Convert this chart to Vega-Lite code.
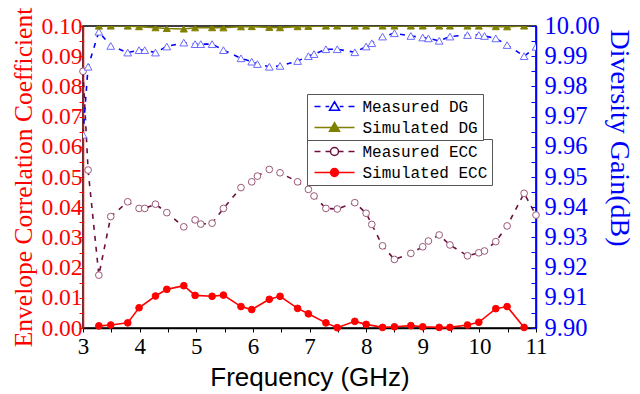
{
  "$schema": "https://vega.github.io/schema/vega-lite/v6.json",
  "width": 453,
  "height": 302,
  "autosize": "none",
  "padding": {"left": 83, "top": 26, "right": 104, "bottom": 66},
  "background": "white",
  "config": {
    "view": {"stroke": "black", "strokeWidth": 1.5},
    "axis": {"grid": false}
  },
  "datasets": {
    "ecc": [
      {"s": "Measured ECC", "f": 3.0, "v": 0.085},
      {"s": "Measured ECC", "f": 3.09, "v": 0.0523},
      {"s": "Measured ECC", "f": 3.28, "v": 0.0175},
      {"s": "Measured ECC", "f": 3.49, "v": 0.0369},
      {"s": "Measured ECC", "f": 3.79, "v": 0.0418},
      {"s": "Measured ECC", "f": 3.99, "v": 0.0396},
      {"s": "Measured ECC", "f": 4.09, "v": 0.0396},
      {"s": "Measured ECC", "f": 4.28, "v": 0.041},
      {"s": "Measured ECC", "f": 4.48, "v": 0.0382},
      {"s": "Measured ECC", "f": 4.78, "v": 0.0335},
      {"s": "Measured ECC", "f": 4.98, "v": 0.0358},
      {"s": "Measured ECC", "f": 5.08, "v": 0.0344},
      {"s": "Measured ECC", "f": 5.28, "v": 0.0347},
      {"s": "Measured ECC", "f": 5.48, "v": 0.0396},
      {"s": "Measured ECC", "f": 5.79, "v": 0.0465},
      {"s": "Measured ECC", "f": 5.98, "v": 0.0484},
      {"s": "Measured ECC", "f": 6.08, "v": 0.0503},
      {"s": "Measured ECC", "f": 6.29, "v": 0.0525},
      {"s": "Measured ECC", "f": 6.48, "v": 0.0514},
      {"s": "Measured ECC", "f": 6.79, "v": 0.0484},
      {"s": "Measured ECC", "f": 6.98, "v": 0.0459},
      {"s": "Measured ECC", "f": 7.08, "v": 0.0437},
      {"s": "Measured ECC", "f": 7.29, "v": 0.0396},
      {"s": "Measured ECC", "f": 7.49, "v": 0.0394},
      {"s": "Measured ECC", "f": 7.8, "v": 0.0415},
      {"s": "Measured ECC", "f": 8.0, "v": 0.038},
      {"s": "Measured ECC", "f": 8.1, "v": 0.0343},
      {"s": "Measured ECC", "f": 8.29, "v": 0.0272},
      {"s": "Measured ECC", "f": 8.5, "v": 0.0227},
      {"s": "Measured ECC", "f": 8.79, "v": 0.0247},
      {"s": "Measured ECC", "f": 9.0, "v": 0.0269},
      {"s": "Measured ECC", "f": 9.1, "v": 0.0288},
      {"s": "Measured ECC", "f": 9.29, "v": 0.0308},
      {"s": "Measured ECC", "f": 9.48, "v": 0.0275},
      {"s": "Measured ECC", "f": 9.79, "v": 0.0239},
      {"s": "Measured ECC", "f": 9.99, "v": 0.0249},
      {"s": "Measured ECC", "f": 10.09, "v": 0.0255},
      {"s": "Measured ECC", "f": 10.29, "v": 0.0286},
      {"s": "Measured ECC", "f": 10.49, "v": 0.0338},
      {"s": "Measured ECC", "f": 10.79, "v": 0.0446},
      {"s": "Measured ECC", "f": 11.0, "v": 0.0374},
      {"s": "Simulated ECC", "f": 3.28, "v": 0.0007},
      {"s": "Simulated ECC", "f": 3.49, "v": 0.001},
      {"s": "Simulated ECC", "f": 3.79, "v": 0.0017},
      {"s": "Simulated ECC", "f": 3.99, "v": 0.0067},
      {"s": "Simulated ECC", "f": 4.28, "v": 0.0106},
      {"s": "Simulated ECC", "f": 4.48, "v": 0.0128},
      {"s": "Simulated ECC", "f": 4.78, "v": 0.014},
      {"s": "Simulated ECC", "f": 4.98, "v": 0.0108},
      {"s": "Simulated ECC", "f": 5.28, "v": 0.0105},
      {"s": "Simulated ECC", "f": 5.48, "v": 0.0109},
      {"s": "Simulated ECC", "f": 5.79, "v": 0.0071},
      {"s": "Simulated ECC", "f": 5.98, "v": 0.0061},
      {"s": "Simulated ECC", "f": 6.29, "v": 0.0095},
      {"s": "Simulated ECC", "f": 6.48, "v": 0.0105},
      {"s": "Simulated ECC", "f": 6.79, "v": 0.0065},
      {"s": "Simulated ECC", "f": 6.98, "v": 0.0047},
      {"s": "Simulated ECC", "f": 7.29, "v": 0.0017},
      {"s": "Simulated ECC", "f": 7.49, "v": 0.0001},
      {"s": "Simulated ECC", "f": 7.8, "v": 0.0022},
      {"s": "Simulated ECC", "f": 8.0, "v": 0.0012},
      {"s": "Simulated ECC", "f": 8.29, "v": 0.0002},
      {"s": "Simulated ECC", "f": 8.5, "v": 0.0004},
      {"s": "Simulated ECC", "f": 8.79, "v": 0.0008},
      {"s": "Simulated ECC", "f": 9.0, "v": 0.0004},
      {"s": "Simulated ECC", "f": 9.29, "v": 0.0002},
      {"s": "Simulated ECC", "f": 9.48, "v": 0.0002},
      {"s": "Simulated ECC", "f": 9.79, "v": 0.001},
      {"s": "Simulated ECC", "f": 9.99, "v": 0.0019},
      {"s": "Simulated ECC", "f": 10.29, "v": 0.0064},
      {"s": "Simulated ECC", "f": 10.49, "v": 0.0071},
      {"s": "Simulated ECC", "f": 10.79, "v": 0.0002}
    ],
    "dg": [
      {"s": "Measured DG", "f": 3.0, "v": 9.964},
      {"s": "Measured DG", "f": 3.09, "v": 9.9865},
      {"s": "Measured DG", "f": 3.28, "v": 9.9981},
      {"s": "Measured DG", "f": 3.49, "v": 9.9934},
      {"s": "Measured DG", "f": 3.79, "v": 9.9912},
      {"s": "Measured DG", "f": 3.99, "v": 9.992},
      {"s": "Measured DG", "f": 4.09, "v": 9.992},
      {"s": "Measured DG", "f": 4.28, "v": 9.9912},
      {"s": "Measured DG", "f": 4.48, "v": 9.9932},
      {"s": "Measured DG", "f": 4.78, "v": 9.9945},
      {"s": "Measured DG", "f": 4.98, "v": 9.994},
      {"s": "Measured DG", "f": 5.08, "v": 9.994},
      {"s": "Measured DG", "f": 5.28, "v": 9.994},
      {"s": "Measured DG", "f": 5.48, "v": 9.992},
      {"s": "Measured DG", "f": 5.79, "v": 9.9893},
      {"s": "Measured DG", "f": 5.98, "v": 9.9882},
      {"s": "Measured DG", "f": 6.08, "v": 9.9874},
      {"s": "Measured DG", "f": 6.29, "v": 9.9865},
      {"s": "Measured DG", "f": 6.48, "v": 9.9868},
      {"s": "Measured DG", "f": 6.79, "v": 9.9884},
      {"s": "Measured DG", "f": 6.98, "v": 9.99},
      {"s": "Measured DG", "f": 7.08, "v": 9.9907},
      {"s": "Measured DG", "f": 7.29, "v": 9.9923},
      {"s": "Measured DG", "f": 7.49, "v": 9.9923},
      {"s": "Measured DG", "f": 7.8, "v": 9.9913},
      {"s": "Measured DG", "f": 8.0, "v": 9.9932},
      {"s": "Measured DG", "f": 8.1, "v": 9.9943},
      {"s": "Measured DG", "f": 8.29, "v": 9.9965},
      {"s": "Measured DG", "f": 8.5, "v": 9.9976},
      {"s": "Measured DG", "f": 8.79, "v": 9.9967},
      {"s": "Measured DG", "f": 9.0, "v": 9.9962},
      {"s": "Measured DG", "f": 9.1, "v": 9.9959},
      {"s": "Measured DG", "f": 9.29, "v": 9.9951},
      {"s": "Measured DG", "f": 9.48, "v": 9.9965},
      {"s": "Measured DG", "f": 9.79, "v": 9.997},
      {"s": "Measured DG", "f": 9.99, "v": 9.997},
      {"s": "Measured DG", "f": 10.09, "v": 9.9967},
      {"s": "Measured DG", "f": 10.29, "v": 9.9959},
      {"s": "Measured DG", "f": 10.49, "v": 9.9937},
      {"s": "Measured DG", "f": 10.79, "v": 9.99},
      {"s": "Measured DG", "f": 11.0, "v": 9.9931},
      {"s": "Simulated DG", "f": 3.28, "v": 9.99999},
      {"s": "Simulated DG", "f": 3.49, "v": 9.99999},
      {"s": "Simulated DG", "f": 3.79, "v": 9.99998},
      {"s": "Simulated DG", "f": 3.99, "v": 9.99978},
      {"s": "Simulated DG", "f": 4.28, "v": 9.99944},
      {"s": "Simulated DG", "f": 4.48, "v": 9.99918},
      {"s": "Simulated DG", "f": 4.78, "v": 9.99902},
      {"s": "Simulated DG", "f": 4.98, "v": 9.99942},
      {"s": "Simulated DG", "f": 5.28, "v": 9.99945},
      {"s": "Simulated DG", "f": 5.48, "v": 9.99941},
      {"s": "Simulated DG", "f": 5.79, "v": 9.99975},
      {"s": "Simulated DG", "f": 5.98, "v": 9.99981},
      {"s": "Simulated DG", "f": 6.29, "v": 9.99955},
      {"s": "Simulated DG", "f": 6.48, "v": 9.99945},
      {"s": "Simulated DG", "f": 6.79, "v": 9.99979},
      {"s": "Simulated DG", "f": 6.98, "v": 9.99989},
      {"s": "Simulated DG", "f": 7.29, "v": 9.99998},
      {"s": "Simulated DG", "f": 7.49, "v": 10.0},
      {"s": "Simulated DG", "f": 7.8, "v": 9.99998},
      {"s": "Simulated DG", "f": 8.0, "v": 9.99999},
      {"s": "Simulated DG", "f": 8.29, "v": 10.0},
      {"s": "Simulated DG", "f": 8.5, "v": 10.0},
      {"s": "Simulated DG", "f": 8.79, "v": 10.0},
      {"s": "Simulated DG", "f": 9.0, "v": 10.0},
      {"s": "Simulated DG", "f": 9.29, "v": 10.0},
      {"s": "Simulated DG", "f": 9.48, "v": 10.0},
      {"s": "Simulated DG", "f": 9.79, "v": 9.99999},
      {"s": "Simulated DG", "f": 9.99, "v": 9.99998},
      {"s": "Simulated DG", "f": 10.29, "v": 9.9998},
      {"s": "Simulated DG", "f": 10.49, "v": 9.99975},
      {"s": "Simulated DG", "f": 10.79, "v": 10.0}
    ]
  },
  "encoding": {
    "x": {
      "field": "f",
      "type": "quantitative",
      "scale": {"domain": [3, 11], "nice": false, "zero": false},
      "axis": {
        "values": [3, 3.5, 4, 4.5, 5, 5.5, 6, 6.5, 7, 7.5, 8, 8.5, 9, 9.5, 10, 10.5, 11],
        "labelExpr": "datum.value % 1 === 0 ? format(datum.value, 'd') : ''",
        "labelFont": "Liberation Serif",
        "labelFontSize": 23,
        "labelColor": "black",
        "labelPadding": 3,
        "labelFlush": false,
        "labelOverlap": false,
        "domainColor": "black",
        "domainWidth": 1.5,
        "tickColor": "black",
        "tickSize": 4,
        "title": "Frequency (GHz)",
        "titleFont": "Liberation Sans",
        "titleFontSize": 26,
        "titleFontWeight": "normal",
        "titleColor": "black",
        "titlePadding": 6
      }
    }
  },
  "layer": [
    {
      "data": {"name": "ecc"},
      "encoding": {
        "y": {
          "field": "v",
          "type": "quantitative",
          "scale": {"domain": [0, 0.1], "nice": false, "zero": false},
          "axis": {
            "orient": "left",
            "values": [0, 0.005, 0.01, 0.015, 0.02, 0.025, 0.03, 0.035, 0.04, 0.045, 0.05, 0.055, 0.06, 0.065, 0.07, 0.075, 0.08, 0.085, 0.09, 0.095, 0.1],
            "labelExpr": "round(datum.value * 1000) % 10 === 0 ? format(datum.value, '.2f') : ''",
            "labelFont": "Liberation Serif",
            "labelFontSize": 23.5,
            "labelColor": "#ff0000",
            "labelPadding": -3,
            "labelFlush": false,
            "labelOverlap": false,
            "domainColor": "#ff0000",
            "domainWidth": 1.5,
            "tickColor": "#ff0000",
            "tickSize": 4,
            "title": "Envelope Correlation Coefficient",
            "titleFont": "Liberation Serif",
            "titleFontSize": 25.5,
            "titleFontWeight": "normal",
            "titleColor": "#ff0000",
            "titlePadding": 4
          }
        }
      },
      "layer": [
        {
          "transform": [{"filter": "datum.s === 'Measured ECC'"}],
          "mark": {"type": "line", "strokeDash": [5, 6], "strokeWidth": 1.6, "color": "#6b0f3f"}
        },
        {
          "transform": [{"filter": "datum.s === 'Simulated ECC'"}],
          "mark": {"type": "line", "strokeWidth": 1.6, "color": "#ff0000"}
        },
        {
          "transform": [{"filter": "datum.s === 'Measured ECC'"}],
          "mark": {"type": "point", "shape": "circle", "filled": true, "fill": "white", "stroke": "#9a5878", "strokeWidth": 1, "size": 45, "opacity": 1}
        },
        {
          "transform": [{"filter": "datum.s === 'Simulated ECC'"}],
          "mark": {"type": "point", "shape": "circle", "filled": true, "fill": "#ff0000", "stroke": "#ff0000", "strokeWidth": 1, "size": 45, "opacity": 1}
        },
        {
          "mark": {"type": "point", "filled": true, "size": 100, "opacity": 0, "strokeWidth": 1.5},
          "encoding": {
            "shape": {
              "field": "s",
              "type": "nominal",
              "scale": {"domain": ["Measured ECC", "Simulated ECC"], "range": ["M-4,0H-2.8M-1.8,0H-0.85M0.85,0H1.8M2.8,0H4M0.8,0A0.8,0.8,0,1,1,-0.8,0A0.8,0.8,0,1,1,0.8,0Z", "M-4,0H4M0.8,0A0.8,0.8,0,1,1,-0.8,0A0.8,0.8,0,1,1,0.8,0Z"]},
              "legend": {
                "title": null,
                "orient": "none",
                "legendX": 224,
                "legendY": 113,
                "padding": 4.5,
                "strokeColor": "#555555",
                "fillColor": "white",
                "labelFont": "Liberation Mono",
                "labelFontSize": 16,
                "labelColor": "black",
                "symbolSize": 100,
                "symbolOffset": 15,
                "labelOffset": 20,
                "rowPadding": 5,
                "symbolStrokeWidth": 1.5,
                "symbolOpacity": 1
              }
            },
            "stroke": {
              "field": "s",
              "type": "nominal",
              "scale": {"domain": ["Measured ECC", "Simulated ECC"], "range": ["#6b0f3f", "#ff0000"]}
            },
            "fill": {
              "field": "s",
              "type": "nominal",
              "scale": {"domain": ["Measured ECC", "Simulated ECC"], "range": ["white", "#ff0000"]}
            }
          }
        }
      ]
    },
    {
      "data": {"name": "dg"},
      "encoding": {
        "y": {
          "field": "v",
          "type": "quantitative",
          "scale": {"domain": [9.9, 10.0], "nice": false, "zero": false},
          "axis": {
            "orient": "right",
            "values": [9.9, 9.905, 9.91, 9.915, 9.92, 9.925, 9.93, 9.935, 9.94, 9.945, 9.95, 9.955, 9.96, 9.965, 9.97, 9.975, 9.98, 9.985, 9.99, 9.995, 10.0],
            "labelExpr": "round(datum.value * 1000) % 10 === 0 ? format(datum.value, '.2f') : ''",
            "labelFont": "Liberation Serif",
            "labelFontSize": 24.5,
            "labelColor": "#0000ff",
            "labelPadding": 13,
            "labelFlush": false,
            "labelOverlap": false,
            "domainColor": "#0000ff",
            "domainWidth": 1.5,
            "tickColor": "#0000ff",
            "tickSize": -5,
            "title": "Diversity Gain(dB)",
            "titleFont": "Liberation Serif",
            "titleFontSize": 28,
            "titleFontWeight": "normal",
            "titleColor": "#0000ff",
            "titlePadding": 5,
            "titleY": 111.5
          }
        }
      },
      "layer": [
        {
          "transform": [{"filter": "datum.s === 'Measured DG'"}],
          "mark": {"type": "line", "strokeDash": [5, 6], "strokeWidth": 1.6, "clip": true, "color": "#0000ff"}
        },
        {
          "transform": [{"filter": "datum.s === 'Simulated DG'"}],
          "mark": {"type": "line", "strokeWidth": 1.6, "clip": true, "color": "#808000"}
        },
        {
          "transform": [{"filter": "datum.s === 'Measured DG'"}],
          "mark": {"type": "point", "shape": "triangle-up", "filled": true, "fill": "white", "stroke": "#6a6aff", "strokeWidth": 1, "size": 60, "opacity": 1, "clip": true}
        },
        {
          "transform": [{"filter": "datum.s === 'Simulated DG'"}],
          "mark": {"type": "point", "shape": "triangle-up", "filled": true, "fill": "#808000", "stroke": "#808000", "strokeWidth": 1, "size": 50, "opacity": 1, "clip": true}
        },
        {
          "mark": {"type": "point", "filled": true, "size": 100, "opacity": 0, "strokeWidth": 1.5, "clip": true},
          "encoding": {
            "shape": {
              "field": "s",
              "type": "nominal",
              "scale": {"domain": ["Measured DG", "Simulated DG"], "range": ["M-4,0H-2.8M-1.8,0H-1.05M1.05,0H1.8M2.8,0H4M0,-0.95L1,0.75L-1,0.75Z", "M-4,0H4M0,-0.95L1,0.75L-1,0.75Z"]},
              "legend": {
                "title": null,
                "orient": "none",
                "legendX": 224,
                "legendY": 68,
                "padding": 4.5,
                "strokeColor": "#555555",
                "fillColor": "white",
                "labelFont": "Liberation Mono",
                "labelFontSize": 16,
                "labelColor": "black",
                "labelExpr": "datum.label + ' '",
                "symbolSize": 100,
                "symbolOffset": 15,
                "labelOffset": 20,
                "rowPadding": 5,
                "symbolStrokeWidth": 1.5,
                "symbolOpacity": 1
              }
            },
            "stroke": {
              "field": "s",
              "type": "nominal",
              "scale": {"domain": ["Measured DG", "Simulated DG"], "range": ["#0000ff", "#808000"]}
            },
            "fill": {
              "field": "s",
              "type": "nominal",
              "scale": {"domain": ["Measured DG", "Simulated DG"], "range": ["white", "#808000"]}
            }
          }
        }
      ]
    }
  ],
  "resolve": {"scale": {"y": "independent", "shape": "independent", "stroke": "independent", "fill": "independent"}}
}
